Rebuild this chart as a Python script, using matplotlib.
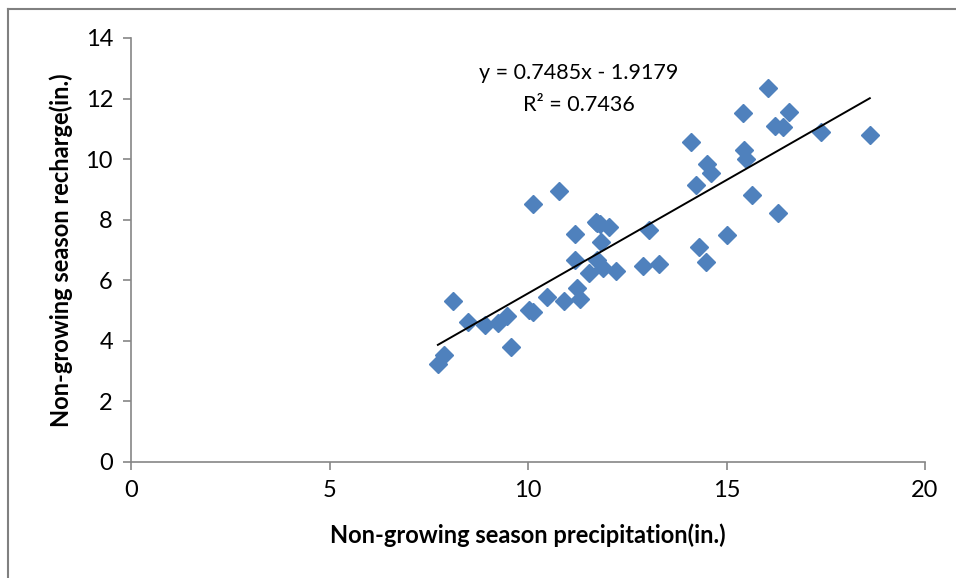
import matplotlib.pyplot as plt
from matplotlib.lines import Line2D

# values
precip = [7.73, 7.88, 8.11, 8.49, 8.92, 9.24, 9.47, 9.57, 10.03, 10.13,
          10.13, 10.78, 10.49, 10.91, 11.24, 11.31, 11.18, 11.18, 11.54, 11.71,
          11.85, 12.05, 11.73, 11.88, 12.22, 11.75, 11.82, 12.89, 13.30, 13.06,
          14.22, 14.31, 14.48, 15.00, 15.63, 16.30, 14.11, 14.52, 14.61, 15.45,
          15.48, 15.42, 16.04, 16.58, 16.22, 16.43, 17.39, 18.61]
recharge = [3.24, 3.53, 5.33, 4.62, 4.52, 4.59, 4.82, 3.80, 5.02, 4.95,
            8.52, 8.95, 5.44, 5.33, 5.74, 5.38, 6.67, 7.52, 6.23, 7.94,
            7.28, 7.77, 6.67, 6.42, 6.31, 7.90, 7.85, 6.47, 6.54, 7.66,
            9.15, 7.11, 6.61, 7.50, 8.82, 8.23, 10.55, 9.84, 9.53, 10.30,
            10.01, 11.52, 12.34, 11.57, 11.10, 11.07, 10.91, 10.80]

slope = 0.7485
intercept = -1.9179
r2 = 0.7436

plt.rcParams['font.family'] = ['Lato', 'DejaVu Sans']

fig = plt.figure(figsize=(9.56, 5.78), dpi=100)
ax = fig.add_axes([131 / 956, 1 - 462 / 578, (925 - 131) / 956, (462 - 38) / 578])

ax.plot(precip, recharge, linestyle='none', marker='D', markersize=9.5,
        color='#4F81BD', markeredgecolor='#4F81BD', zorder=2)

x_fit = [min(precip), max(precip)]
y_fit = [slope * v + intercept for v in x_fit]
ax.plot(x_fit, y_fit, color='black', linewidth=1.4, zorder=3)

ax.text(11.28, 12.3, f"y = {slope}x - {abs(intercept)}\nR² = {r2}",
        ha='center', va='center', fontsize=15.5, linespacing=1.75)

ax.set_xlim(0, 20)
ax.set_ylim(0, 14)
ax.set_xticks([0, 5, 10, 15, 20])
ax.set_yticks(range(0, 15, 2))

for side in ['top', 'right']:
    ax.spines[side].set_visible(False)
for side in ['left', 'bottom']:
    ax.spines[side].set_color('#868686')
    ax.spines[side].set_linewidth(1.2)
ax.tick_params(axis='both', colors='#868686', labelcolor='black',
               labelsize=17, length=6, width=1.2, direction='out')
ax.tick_params(axis='x', pad=7)
ax.tick_params(axis='y', pad=7)

ax.set_xlabel('Non-growing season precipitation(in.)', fontsize=17,
              fontweight='bold', labelpad=16)
ax.set_ylabel('Non-growing season recharge(in.)', fontsize=17,
              fontweight='bold', labelpad=9)

# outer chart frame (top and left edges visible in the crop)
fig.add_artist(Line2D([8 / 956, 8 / 956], [0, 1 - 9 / 578], color='#808080', linewidth=1.5))
fig.add_artist(Line2D([8 / 956, 1], [1 - 9 / 578, 1 - 9 / 578], color='#808080', linewidth=1.5))

fig.savefig('out.png', dpi=100)
